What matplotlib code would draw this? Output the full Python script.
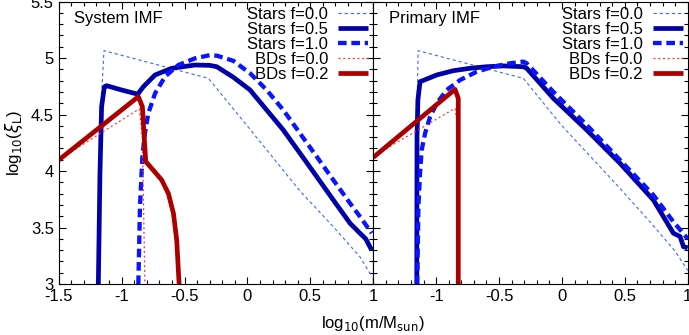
import numpy as np
import matplotlib
matplotlib.use("Agg")
import matplotlib.pyplot as plt
from matplotlib.ticker import MultipleLocator

plt.rcParams['font.family'] = ['Liberation Sans', 'DejaVu Sans']
plt.rcParams['font.size'] = 12

# ---- System IMF (linkes Panel) ----
sys_s00_x = [-1.175, -1.158, -1.14, -0.31, 0.02, 0.42, 0.68, 0.895, 0.99]
sys_s00_y = [3.0, 4.70, 5.065, 4.82, 4.37, 3.82, 3.51, 3.24, 3.065]

sys_s05_x = [-1.185, -1.172, -1.159, -1.137, -1.119, -1.0, -0.872, -0.827, -0.734,
             -0.602, -0.417, -0.30, -0.244, -0.112, 0.021, 0.153, 0.285, 0.418,
             0.551, 0.683, 0.816, 0.895, 0.94, 0.988]
sys_s05_y = [3.0, 3.98, 4.57, 4.746, 4.755, 4.717, 4.68, 4.746, 4.85,
             4.909, 4.938, 4.935, 4.923, 4.83, 4.717, 4.54, 4.363, 4.157,
             3.95, 3.743, 3.537, 3.449, 3.40, 3.30]

sys_s10_x = [-0.867, -0.854, -0.835, -0.815, -0.788, -0.734, -0.655, -0.549, -0.417,
             -0.30, -0.24, -0.112, 0.021, 0.153, 0.285, 0.418, 0.551, 0.683,
             0.816, 0.895, 0.988]
sys_s10_y = [3.0, 3.684, 4.127, 4.333, 4.51, 4.687, 4.835, 4.938, 4.997,
             5.025, 5.02, 4.975, 4.865, 4.717, 4.54, 4.333, 4.127, 3.92,
             3.714, 3.596, 3.45]

sys_b00_x = [-1.5, -0.86, -0.835, -0.815]
sys_b00_y = [4.10, 4.55, 4.30, 3.0]

sys_b02_x = [-1.5, -0.867, -0.835, -0.819, -0.808, -0.761, -0.681, -0.628,
             -0.588, -0.562, -0.543]
sys_b02_y = [4.097, 4.658, 4.57, 4.275, 4.083, 4.024, 3.92, 3.80,
             3.625, 3.389, 3.0]

# ---- Primary IMF (rechtes Panel) ----
pri_s00_x = [-1.155, -1.149, -1.143, -0.307, 0.0, 0.45, 0.70, 0.90, 1.0]
pri_s00_y = [3.0, 4.70, 5.065, 4.82, 4.40, 3.86, 3.55, 3.29, 3.12]

pri_s05_x = [-1.154, -1.152, -1.145, -1.128, -0.995, -0.863, -0.73, -0.598, -0.466,
             -0.307, -0.28, -0.068, 0.197, 0.462, 0.727, 0.886, 0.939, 0.966, 1.0]
pri_s05_y = [3.0, 4.30, 4.63, 4.79, 4.85, 4.888, 4.909, 4.923, 4.93,
             4.923, 4.909, 4.643, 4.363, 4.068, 3.743, 3.449, 3.42, 3.33, 3.32]

pri_s10_x = [-1.15, -1.141, -1.128, -1.115, -1.088, -1.048, -0.995, -0.916, -0.81,
             -0.677, -0.545, -0.413, -0.307, -0.28, -0.068, 0.197, 0.462, 0.727,
             0.886, 1.0]
pri_s10_y = [3.0, 3.684, 3.98, 4.186, 4.333, 4.48, 4.60, 4.717, 4.805,
             4.879, 4.923, 4.953, 4.968, 4.953, 4.70, 4.407, 4.097, 3.787,
             3.55, 3.40]

pri_b00_x = [-1.5, -0.85, -0.83, -0.824]
pri_b00_y = [4.13, 4.555, 4.40, 3.0]

pri_b02_x = [-1.5, -0.85, -0.824, -0.824]
pri_b02_y = [4.12, 4.723, 4.643, 3.0]

labels = ['Stars f=0.0', 'Stars f=0.5', 'Stars f=1.0', 'BDs f=0.0', 'BDs f=0.2']
xticks = [-1.5, -1, -0.5, 0, 0.5, 1]

# Linienstile
styles = [
    dict(color='#4766ff', lw=0.8, dashes=(3, 2.5)),
    dict(color='#0000a8', lw=3.4, solid_capstyle='butt'),
    dict(color='#0a14ff', lw=3.1, dashes=(2.0, 1.1)),
    dict(color='#ff3535', lw=0.9, dashes=(1.6, 2.2)),
    dict(color='#aa0000', lw=3.4, solid_capstyle='butt'),
]

fig = plt.figure(figsize=(6.89, 3.35), dpi=100)
ax1 = fig.add_axes([0.0852, 0.1522, 0.4565, 0.8433])
ax2 = fig.add_axes([0.5417, 0.1522, 0.4565, 0.8433])

panels = [
    (ax1, 'System IMF', [(sys_s00_x, sys_s00_y), (sys_s05_x, sys_s05_y),
                         (sys_s10_x, sys_s10_y), (sys_b00_x, sys_b00_y),
                         (sys_b02_x, sys_b02_y)]),
    (ax2, 'Primary IMF', [(pri_s00_x, pri_s00_y), (pri_s05_x, pri_s05_y),
                          (pri_s10_x, pri_s10_y), (pri_b00_x, pri_b00_y),
                          (pri_b02_x, pri_b02_y)]),
]

for ax, title, series in panels:
    for (xs, ys), st, lab in zip(series, styles, labels):
        ax.plot(xs, ys, label=lab, **st)
    ax.set_xlim(-1.5, 1)
    ax.set_ylim(3, 5.5)
    ax.xaxis.set_major_locator(MultipleLocator(0.5))
    ax.xaxis.set_minor_locator(MultipleLocator(0.1))
    ax.yaxis.set_major_locator(MultipleLocator(0.5))
    ax.yaxis.set_minor_locator(MultipleLocator(0.1))
    ax.tick_params(which='both', direction='in', top=True, right=True, width=0.8)
    ax.tick_params(which='major', length=5)
    ax.tick_params(which='minor', length=3)
    ax.text(0.05, 0.965, title, transform=ax.transAxes, ha='left', va='top')
    ax.legend(loc='upper right', frameon=False, markerfirst=False,
              handlelength=1.8, handletextpad=0.6, labelspacing=0.0,
              borderaxespad=0.2, borderpad=0.1)

ax1.set_xticks(xticks)
ax1.set_xticklabels(['-1.5', '-1', '-0.5', '0', '0.5', '1'])
ax1.set_yticks([3, 3.5, 4, 4.5, 5, 5.5])
ax1.set_yticklabels(['3', '3.5', '4', '4.5', '5', '5.5'])
ax1.set_ylabel(r'log$_{10}$($\xi_{\rm L}$)', labelpad=4)

ax2.set_xticks(xticks)
ax2.set_xticklabels(['', '-1', '-0.5', '0', '0.5', '1'])
ax2.set_yticklabels([])

fig.text(0.5417, 0.005, r'log$_{10}$(m/M$_{\rm sun}$)', ha='center', va='bottom')

fig.savefig('out.png', dpi=100)
